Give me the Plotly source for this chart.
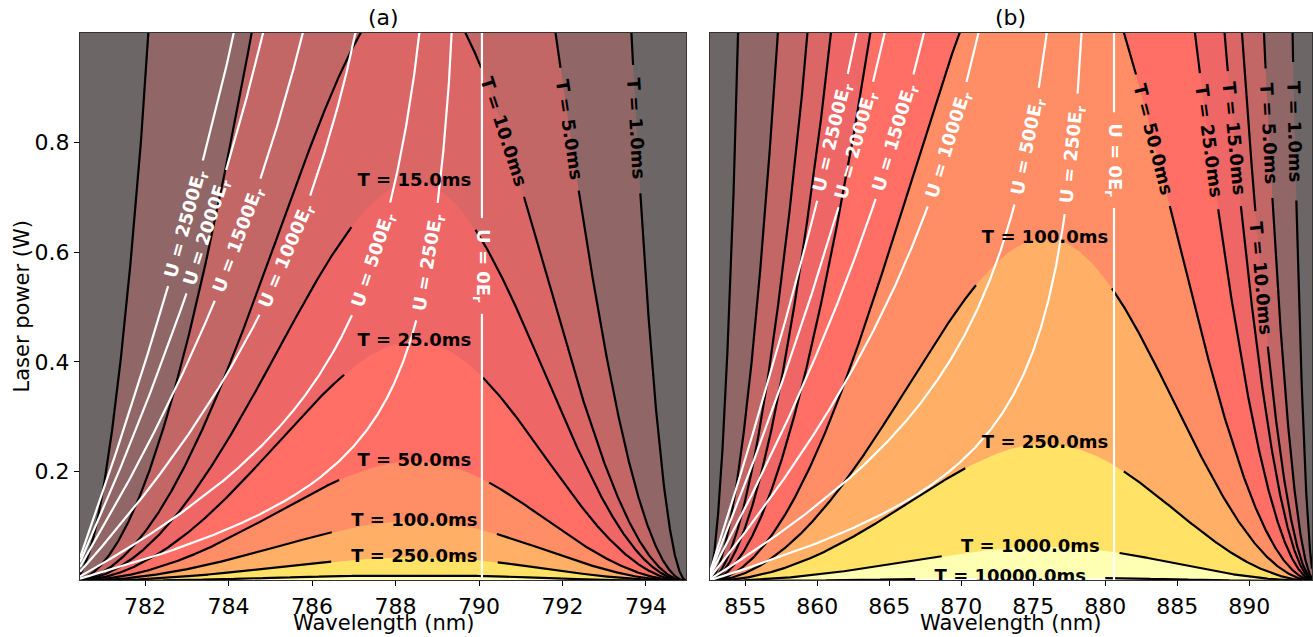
import numpy as np
import plotly.graph_objects as go

# ---------------- values ----------------
PANEL_TITLES = ["(a)", "(b)"]
X_TITLE = "Wavelength (nm)"
Y_TITLE = "Laser power (W)"
D2_LINE_NM = [780.24, 852.35]          # resonance lines bounding each panel
D1_LINE_NM = [794.98, 894.59]
X_RANGES = [[780.44, 794.96], [852.52, 894.35]]
Y_RANGE = [0.002, 1.0]
X_TICKS = [[782, 784, 786, 788, 790, 792, 794],
           [855, 860, 865, 870, 875, 880, 885, 890]]
Y_TICKS = [0.2, 0.4, 0.6, 0.8]

# lifetime / trap-depth model parameters fitted to the drawn contours
SCAT_D2_WEIGHT = [2.107, 2.26]
LIFETIME_CONST = [0.230, 0.252]        # T[ms] * P[W] * g
POT_D2_WEIGHT = [2.04, 2.12]
POT_CONST = [9500.0, 19900.0]          # E_r per W per unit

T_LEVELS = [[1, 5, 10, 15, 25, 50, 100, 250, 1000],
            [1, 5, 10, 15, 25, 50, 100, 250, 1000, 10000]]
U_LEVELS = [0, 250, 500, 1000, 1500, 2000, 2500]

# label anchors: (level, kind, value); 'P' = power on right branch, 'x' = wavelength, 'peak'
T_LABELS = [
    [(1, 'P', 0.826), (5, 'P', 0.824), (10, 'P', 0.82), (15, 'peak', None),
     (25, 'peak', None), (50, 'peak', None), (100, 'peak', None), (250, 'peak', None)],
    [(1, 'P', 0.82), (5, 'P', 0.816), (10, 'P', 0.552), (15, 'P', 0.807),
     (25, 'P', 0.803), (50, 'P', 0.805), (100, 'peak', None), (250, 'peak', None),
     (1000, 'x', 874.8), (10000, 'x', 873.4)],
]
U_LABEL_P = [
    [0.575, 0.582, 0.586, 0.593, 0.622, 0.637, 0.652],
    [0.768, 0.778, 0.792, 0.796, 0.810, 0.796, 0.810],
]

# ---------------- style ----------------
BG_COLOR = '#6c6666'
BAND_COLORS = ['#906666', '#c26666', '#da6666', '#ee6666', '#ff6f66',
               '#ff8d66', '#ffb066', '#ffe266', '#ffffb4', '#ffffff']
W, H = 1313, 637
ML, MR, MT, MB = 80, 1, 33, 57
DOMAINS = [[0.0, 0.4919], [0.511, 1.0]]
PLOT_W = W - ML - MR
PLOT_H = H - MT - MB
FONT = 'DejaVu Sans'
LFS = 18     # contour label font size
TFS = 22     # tick / title font size


def text_width(n):
    return 0.64 * LFS * n


fig = go.Figure()
annotations = []

for k in range(2):
    xa = 'x' if k == 0 else 'x2'
    ya = 'y' if k == 0 else 'y2'
    x0, x1 = X_RANGES[k]
    lam = np.linspace(x0, x1, 3000)
    nu = 1e6 / lam
    nu2 = 1e6 / D2_LINE_NM[k]
    nu1 = 1e6 / D1_LINE_NM[k]
    a = nu2 - nu
    b = nu - nu1
    g = SCAT_D2_WEIGHT[k] / a ** 2 + 1.0 / b ** 2
    f = POT_D2_WEIGHT[k] / a - 1.0 / b
    wpx = (DOMAINS[k][1] - DOMAINS[k][0]) * PLOT_W
    sx = wpx / (x1 - x0)
    sy = PLOT_H / (Y_RANGE[1] - Y_RANGE[0])
    ipk = int(np.argmin(g))

    # ---- filled bands ----
    for lev, col in zip(T_LEVELS[k], BAND_COLORS):
        p = LIFETIME_CONST[k] / (lev * g)
        fig.add_trace(go.Scatter(x=lam, y=np.minimum(p, 1.5), mode='lines',
                                 line=dict(width=0, color=col), fill='tozeroy',
                                 fillcolor=col, xaxis=xa, yaxis=ya,
                                 hoverinfo='skip', showlegend=False))

    # ---- black lifetime contours ----
    labels = {lab[0]: lab for lab in T_LABELS[k]}
    flat_x, flat_y, flat_t = [], [], []
    for lev in T_LEVELS[k]:
        p = LIFETIME_CONST[k] / (lev * g)
        y = p.copy()
        if lev in labels:
            _, kind, val = labels[lev]
            if kind == 'peak':
                xl, yl = lam[ipk], p[ipk]
            elif kind == 'x':
                xl, yl = val, float(np.interp(val, lam, p))
            else:
                lr, pr = lam[ipk:], p[ipk:]
                xl, yl = float(np.interp(val, pr[::-1], lr[::-1])), val
            text = f"T = {lev:.1f}ms"
            half = 0.5 * text_width(len(text))
            d = np.hypot((lam - xl) * sx, (p - yl) * sy)
            if kind == 'P':
                y[d < half + 10] = np.nan
                i = int(np.argmin(np.abs(lam - xl)))
                s = np.gradient(p, lam)[i] * sy / sx
                ang = -np.degrees(np.arctan(s))
                annotations.append(dict(x=xl, y=yl, xref=xa, yref=ya, text=text,
                                        textangle=ang, showarrow=False,
                                        xanchor='center', yanchor='middle',
                                        font=dict(family=FONT, size=LFS, color='black',
                                                  weight='bold')))
            else:
                y[d < half + 20] = np.nan
                flat_x.append(xl)
                flat_y.append(yl)
                flat_t.append(text)
        y[y > 1.5] = np.nan
        fig.add_trace(go.Scatter(x=lam, y=y, mode='lines',
                                 line=dict(color='black', width=2.2),
                                 xaxis=xa, yaxis=ya, hoverinfo='skip', showlegend=False))

    # ---- white trap-depth contours ----
    wU = POT_D2_WEIGHT[k]
    lam0 = 1e6 / ((nu2 + wU * nu1) / (1 + wU))
    for U, pl in zip(U_LEVELS, U_LABEL_P[k]):
        text = f"U = {U}E<sub>r</sub>"
        nchar = len(f"U = {U}E") + 0.5
        half = 0.5 * text_width(nchar)
        if U == 0:
            yy = np.linspace(0.0, Y_RANGE[1] + 0.05, 800)
            xx = np.full_like(yy, lam0)
            yy[np.abs(yy - pl) * sy < half + 10] = np.nan
            xl, yl, ang = lam0, pl, 90
        else:
            valid = f > 0
            pu = np.full_like(lam, np.nan)
            pu[valid] = U / (POT_CONST[k] * f[valid])
            lv, pv = lam[valid], pu[valid]
            xl = float(np.interp(pl, pv, lv))
            yl = pl
            i = int(np.argmin(np.abs(lam - xl)))
            s = np.gradient(pu, lam)[i] * sy / sx
            ang = -np.degrees(np.arctan(s))
            d = np.hypot((lam - xl) * sx, (pu - yl) * sy)
            pu[d < half + 10] = np.nan
            pu[pu > 1.5] = np.nan
            xx, yy = lam, pu
        fig.add_trace(go.Scatter(x=xx, y=yy, mode='lines',
                                 line=dict(color='white', width=2.2),
                                 xaxis=xa, yaxis=ya, hoverinfo='skip', showlegend=False))
        annotations.append(dict(x=xl, y=yl, xref=xa, yref=ya, text=text,
                                textangle=ang, showarrow=False,
                                xanchor='center', yanchor='middle',
                                font=dict(family=FONT, size=LFS, color='white',
                                          weight='bold')))

    # horizontal dome labels (clipped to the plot area)
    fig.add_trace(go.Scatter(x=flat_x, y=flat_y, mode='text', text=flat_t,
                             textposition='middle center', cliponaxis=True,
                             textfont=dict(family=FONT, size=LFS, color='black',
                                           weight='bold'),
                             xaxis=xa, yaxis=ya, hoverinfo='skip', showlegend=False))

    xc = (DOMAINS[k][0] + DOMAINS[k][1]) / 2
    annotations.append(dict(x=xc, y=1.0, xref='paper', yref='paper', xanchor='center',
                            yanchor='bottom', yshift=1, showarrow=False,
                            text=PANEL_TITLES[k],
                            font=dict(family=FONT, size=TFS, color='black')))
    annotations.append(dict(x=xc, y=-MB / PLOT_H, xref='paper', yref='paper',
                            xanchor='center', yanchor='bottom', showarrow=False,
                            text=X_TITLE,
                            font=dict(family=FONT, size=21, color='black')))

annotations.append(dict(x=0.0, y=0.5, xref='paper', yref='paper', xanchor='center',
                        yanchor='middle', xshift=-59, showarrow=False, text=Y_TITLE,
                        textangle=-90, font=dict(family=FONT, size=21, color='black')))

axis_common = dict(showgrid=False, zeroline=False, showline=True, mirror=True,
                   linecolor='#333333', linewidth=1, ticks='outside', ticklen=5,
                   tickwidth=1, tickcolor='black', automargin=False,
                   tickfont=dict(family=FONT, size=TFS, color='black'))

fig.update_layout(
    width=W, height=H, margin=dict(l=ML, r=MR, t=MT, b=MB),
    plot_bgcolor=BG_COLOR, paper_bgcolor='white',
    showlegend=False,
    xaxis=dict(domain=DOMAINS[0], range=X_RANGES[0], tickvals=X_TICKS[0], anchor='y',
               ticklabelstandoff=2, **axis_common),
    xaxis2=dict(domain=DOMAINS[1], range=X_RANGES[1], tickvals=X_TICKS[1], anchor='y2',
                ticklabelstandoff=2, **axis_common),
    yaxis=dict(range=Y_RANGE, tickvals=Y_TICKS, ticktext=[f"{v:.1f}" for v in Y_TICKS],
               anchor='x', **axis_common),
    yaxis2=dict(range=Y_RANGE, anchor='x2', showticklabels=False, showgrid=False,
                zeroline=False, showline=True, mirror=True, linecolor='#333333',
                linewidth=1, ticks=''),
    annotations=annotations,
)

fig.write_html("out.html")
